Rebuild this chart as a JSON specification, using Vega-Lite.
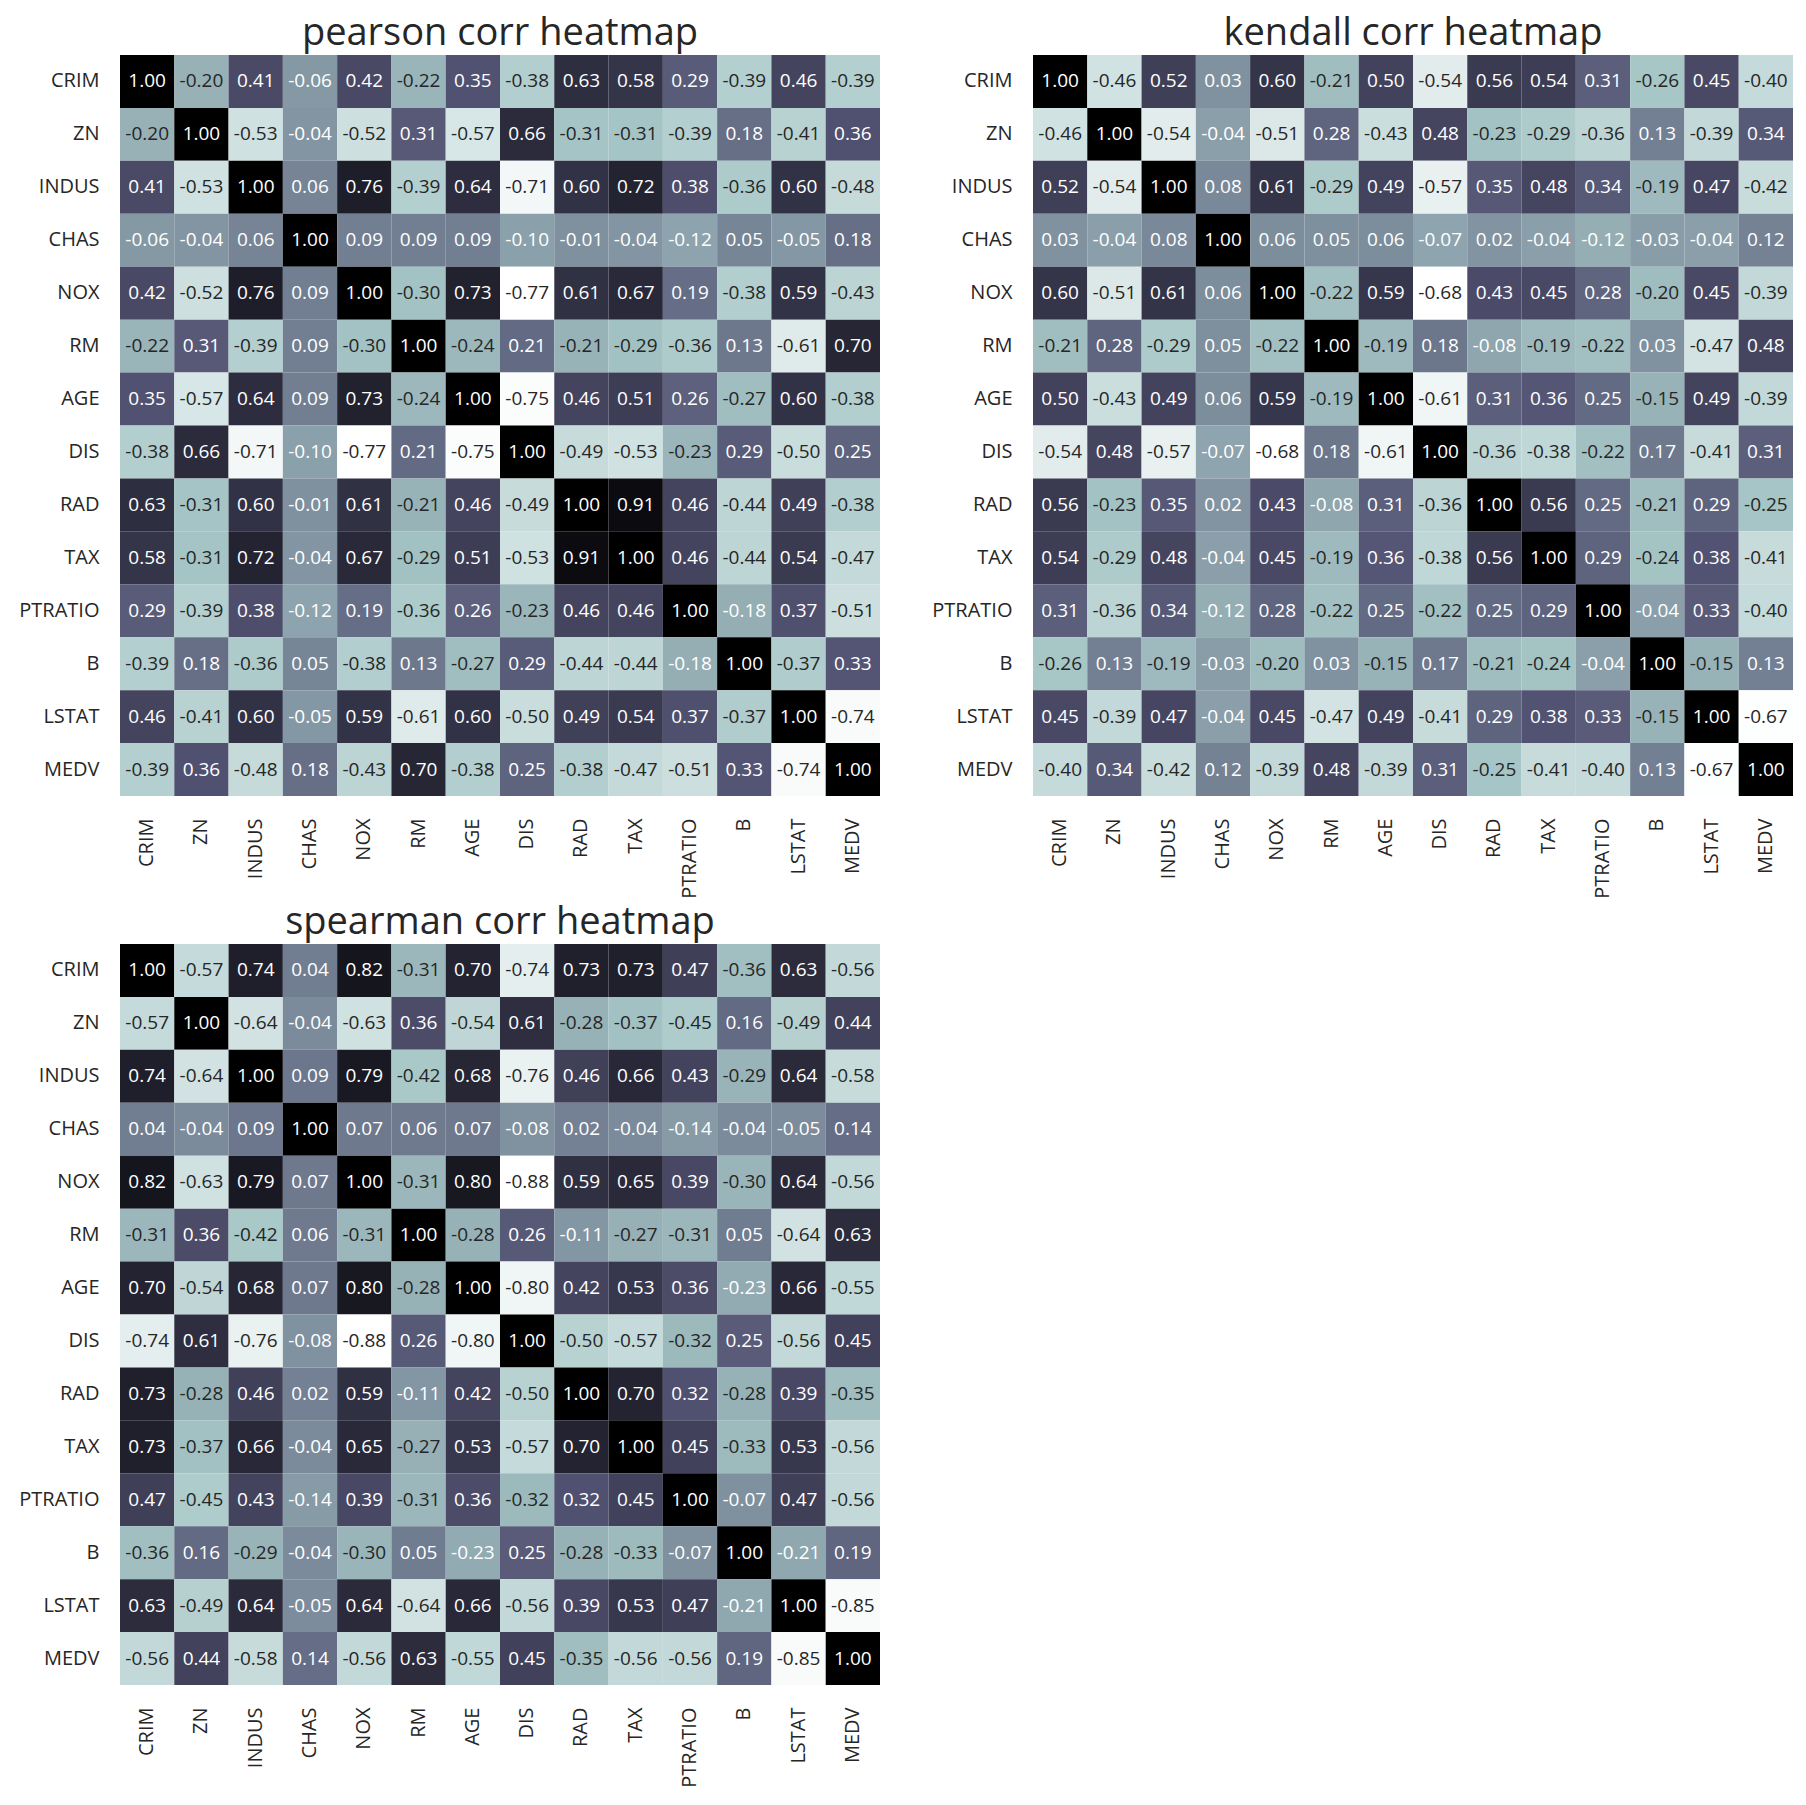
{
"$schema": "https://vega.github.io/schema/vega-lite/v6.json",
"padding": {"left": 18, "top": 15, "right": 5, "bottom": 5},
"background": "white",
"config": {
  "view": {"stroke": null},
  "locale": {"number": {"decimal": ".", "thousands": ",", "grouping": [3], "currency": ["$", ""], "minus": "-"}},
  "axis": {"domain": false, "ticks": false, "grid": false, "labelFont": "Open Sans", "labelFontSize": 20, "labelColor": "#262626", "title": null},
  "axisX": {"labelAngle": 270, "labelPadding": 22},
  "axisY": {"labelPadding": 21},
  "title": {"font": "Open Sans", "fontSize": 38, "fontWeight": "normal", "color": "#262626", "offset": 2, "baseline": "alphabetic"}
},
"datasets": {
"p": [
{"r":"CRIM","c":"CRIM","v":1.00},{"r":"CRIM","c":"ZN","v":-0.20},{"r":"CRIM","c":"INDUS","v":0.41},{"r":"CRIM","c":"CHAS","v":-0.06},{"r":"CRIM","c":"NOX","v":0.42},{"r":"CRIM","c":"RM","v":-0.22},{"r":"CRIM","c":"AGE","v":0.35},{"r":"CRIM","c":"DIS","v":-0.38},{"r":"CRIM","c":"RAD","v":0.63},{"r":"CRIM","c":"TAX","v":0.58},{"r":"CRIM","c":"PTRATIO","v":0.29},{"r":"CRIM","c":"B","v":-0.39},{"r":"CRIM","c":"LSTAT","v":0.46},{"r":"CRIM","c":"MEDV","v":-0.39},
{"r":"ZN","c":"CRIM","v":-0.20},{"r":"ZN","c":"ZN","v":1.00},{"r":"ZN","c":"INDUS","v":-0.53},{"r":"ZN","c":"CHAS","v":-0.04},{"r":"ZN","c":"NOX","v":-0.52},{"r":"ZN","c":"RM","v":0.31},{"r":"ZN","c":"AGE","v":-0.57},{"r":"ZN","c":"DIS","v":0.66},{"r":"ZN","c":"RAD","v":-0.31},{"r":"ZN","c":"TAX","v":-0.31},{"r":"ZN","c":"PTRATIO","v":-0.39},{"r":"ZN","c":"B","v":0.18},{"r":"ZN","c":"LSTAT","v":-0.41},{"r":"ZN","c":"MEDV","v":0.36},
{"r":"INDUS","c":"CRIM","v":0.41},{"r":"INDUS","c":"ZN","v":-0.53},{"r":"INDUS","c":"INDUS","v":1.00},{"r":"INDUS","c":"CHAS","v":0.06},{"r":"INDUS","c":"NOX","v":0.76},{"r":"INDUS","c":"RM","v":-0.39},{"r":"INDUS","c":"AGE","v":0.64},{"r":"INDUS","c":"DIS","v":-0.71},{"r":"INDUS","c":"RAD","v":0.60},{"r":"INDUS","c":"TAX","v":0.72},{"r":"INDUS","c":"PTRATIO","v":0.38},{"r":"INDUS","c":"B","v":-0.36},{"r":"INDUS","c":"LSTAT","v":0.60},{"r":"INDUS","c":"MEDV","v":-0.48},
{"r":"CHAS","c":"CRIM","v":-0.06},{"r":"CHAS","c":"ZN","v":-0.04},{"r":"CHAS","c":"INDUS","v":0.06},{"r":"CHAS","c":"CHAS","v":1.00},{"r":"CHAS","c":"NOX","v":0.09},{"r":"CHAS","c":"RM","v":0.09},{"r":"CHAS","c":"AGE","v":0.09},{"r":"CHAS","c":"DIS","v":-0.10},{"r":"CHAS","c":"RAD","v":-0.01},{"r":"CHAS","c":"TAX","v":-0.04},{"r":"CHAS","c":"PTRATIO","v":-0.12},{"r":"CHAS","c":"B","v":0.05},{"r":"CHAS","c":"LSTAT","v":-0.05},{"r":"CHAS","c":"MEDV","v":0.18},
{"r":"NOX","c":"CRIM","v":0.42},{"r":"NOX","c":"ZN","v":-0.52},{"r":"NOX","c":"INDUS","v":0.76},{"r":"NOX","c":"CHAS","v":0.09},{"r":"NOX","c":"NOX","v":1.00},{"r":"NOX","c":"RM","v":-0.30},{"r":"NOX","c":"AGE","v":0.73},{"r":"NOX","c":"DIS","v":-0.77},{"r":"NOX","c":"RAD","v":0.61},{"r":"NOX","c":"TAX","v":0.67},{"r":"NOX","c":"PTRATIO","v":0.19},{"r":"NOX","c":"B","v":-0.38},{"r":"NOX","c":"LSTAT","v":0.59},{"r":"NOX","c":"MEDV","v":-0.43},
{"r":"RM","c":"CRIM","v":-0.22},{"r":"RM","c":"ZN","v":0.31},{"r":"RM","c":"INDUS","v":-0.39},{"r":"RM","c":"CHAS","v":0.09},{"r":"RM","c":"NOX","v":-0.30},{"r":"RM","c":"RM","v":1.00},{"r":"RM","c":"AGE","v":-0.24},{"r":"RM","c":"DIS","v":0.21},{"r":"RM","c":"RAD","v":-0.21},{"r":"RM","c":"TAX","v":-0.29},{"r":"RM","c":"PTRATIO","v":-0.36},{"r":"RM","c":"B","v":0.13},{"r":"RM","c":"LSTAT","v":-0.61},{"r":"RM","c":"MEDV","v":0.70},
{"r":"AGE","c":"CRIM","v":0.35},{"r":"AGE","c":"ZN","v":-0.57},{"r":"AGE","c":"INDUS","v":0.64},{"r":"AGE","c":"CHAS","v":0.09},{"r":"AGE","c":"NOX","v":0.73},{"r":"AGE","c":"RM","v":-0.24},{"r":"AGE","c":"AGE","v":1.00},{"r":"AGE","c":"DIS","v":-0.75},{"r":"AGE","c":"RAD","v":0.46},{"r":"AGE","c":"TAX","v":0.51},{"r":"AGE","c":"PTRATIO","v":0.26},{"r":"AGE","c":"B","v":-0.27},{"r":"AGE","c":"LSTAT","v":0.60},{"r":"AGE","c":"MEDV","v":-0.38},
{"r":"DIS","c":"CRIM","v":-0.38},{"r":"DIS","c":"ZN","v":0.66},{"r":"DIS","c":"INDUS","v":-0.71},{"r":"DIS","c":"CHAS","v":-0.10},{"r":"DIS","c":"NOX","v":-0.77},{"r":"DIS","c":"RM","v":0.21},{"r":"DIS","c":"AGE","v":-0.75},{"r":"DIS","c":"DIS","v":1.00},{"r":"DIS","c":"RAD","v":-0.49},{"r":"DIS","c":"TAX","v":-0.53},{"r":"DIS","c":"PTRATIO","v":-0.23},{"r":"DIS","c":"B","v":0.29},{"r":"DIS","c":"LSTAT","v":-0.50},{"r":"DIS","c":"MEDV","v":0.25},
{"r":"RAD","c":"CRIM","v":0.63},{"r":"RAD","c":"ZN","v":-0.31},{"r":"RAD","c":"INDUS","v":0.60},{"r":"RAD","c":"CHAS","v":-0.01},{"r":"RAD","c":"NOX","v":0.61},{"r":"RAD","c":"RM","v":-0.21},{"r":"RAD","c":"AGE","v":0.46},{"r":"RAD","c":"DIS","v":-0.49},{"r":"RAD","c":"RAD","v":1.00},{"r":"RAD","c":"TAX","v":0.91},{"r":"RAD","c":"PTRATIO","v":0.46},{"r":"RAD","c":"B","v":-0.44},{"r":"RAD","c":"LSTAT","v":0.49},{"r":"RAD","c":"MEDV","v":-0.38},
{"r":"TAX","c":"CRIM","v":0.58},{"r":"TAX","c":"ZN","v":-0.31},{"r":"TAX","c":"INDUS","v":0.72},{"r":"TAX","c":"CHAS","v":-0.04},{"r":"TAX","c":"NOX","v":0.67},{"r":"TAX","c":"RM","v":-0.29},{"r":"TAX","c":"AGE","v":0.51},{"r":"TAX","c":"DIS","v":-0.53},{"r":"TAX","c":"RAD","v":0.91},{"r":"TAX","c":"TAX","v":1.00},{"r":"TAX","c":"PTRATIO","v":0.46},{"r":"TAX","c":"B","v":-0.44},{"r":"TAX","c":"LSTAT","v":0.54},{"r":"TAX","c":"MEDV","v":-0.47},
{"r":"PTRATIO","c":"CRIM","v":0.29},{"r":"PTRATIO","c":"ZN","v":-0.39},{"r":"PTRATIO","c":"INDUS","v":0.38},{"r":"PTRATIO","c":"CHAS","v":-0.12},{"r":"PTRATIO","c":"NOX","v":0.19},{"r":"PTRATIO","c":"RM","v":-0.36},{"r":"PTRATIO","c":"AGE","v":0.26},{"r":"PTRATIO","c":"DIS","v":-0.23},{"r":"PTRATIO","c":"RAD","v":0.46},{"r":"PTRATIO","c":"TAX","v":0.46},{"r":"PTRATIO","c":"PTRATIO","v":1.00},{"r":"PTRATIO","c":"B","v":-0.18},{"r":"PTRATIO","c":"LSTAT","v":0.37},{"r":"PTRATIO","c":"MEDV","v":-0.51},
{"r":"B","c":"CRIM","v":-0.39},{"r":"B","c":"ZN","v":0.18},{"r":"B","c":"INDUS","v":-0.36},{"r":"B","c":"CHAS","v":0.05},{"r":"B","c":"NOX","v":-0.38},{"r":"B","c":"RM","v":0.13},{"r":"B","c":"AGE","v":-0.27},{"r":"B","c":"DIS","v":0.29},{"r":"B","c":"RAD","v":-0.44},{"r":"B","c":"TAX","v":-0.44},{"r":"B","c":"PTRATIO","v":-0.18},{"r":"B","c":"B","v":1.00},{"r":"B","c":"LSTAT","v":-0.37},{"r":"B","c":"MEDV","v":0.33},
{"r":"LSTAT","c":"CRIM","v":0.46},{"r":"LSTAT","c":"ZN","v":-0.41},{"r":"LSTAT","c":"INDUS","v":0.60},{"r":"LSTAT","c":"CHAS","v":-0.05},{"r":"LSTAT","c":"NOX","v":0.59},{"r":"LSTAT","c":"RM","v":-0.61},{"r":"LSTAT","c":"AGE","v":0.60},{"r":"LSTAT","c":"DIS","v":-0.50},{"r":"LSTAT","c":"RAD","v":0.49},{"r":"LSTAT","c":"TAX","v":0.54},{"r":"LSTAT","c":"PTRATIO","v":0.37},{"r":"LSTAT","c":"B","v":-0.37},{"r":"LSTAT","c":"LSTAT","v":1.00},{"r":"LSTAT","c":"MEDV","v":-0.74},
{"r":"MEDV","c":"CRIM","v":-0.39},{"r":"MEDV","c":"ZN","v":0.36},{"r":"MEDV","c":"INDUS","v":-0.48},{"r":"MEDV","c":"CHAS","v":0.18},{"r":"MEDV","c":"NOX","v":-0.43},{"r":"MEDV","c":"RM","v":0.70},{"r":"MEDV","c":"AGE","v":-0.38},{"r":"MEDV","c":"DIS","v":0.25},{"r":"MEDV","c":"RAD","v":-0.38},{"r":"MEDV","c":"TAX","v":-0.47},{"r":"MEDV","c":"PTRATIO","v":-0.51},{"r":"MEDV","c":"B","v":0.33},{"r":"MEDV","c":"LSTAT","v":-0.74},{"r":"MEDV","c":"MEDV","v":1.00}
],
"k": [
{"r":"CRIM","c":"CRIM","v":1.00},{"r":"CRIM","c":"ZN","v":-0.46},{"r":"CRIM","c":"INDUS","v":0.52},{"r":"CRIM","c":"CHAS","v":0.03},{"r":"CRIM","c":"NOX","v":0.60},{"r":"CRIM","c":"RM","v":-0.21},{"r":"CRIM","c":"AGE","v":0.50},{"r":"CRIM","c":"DIS","v":-0.54},{"r":"CRIM","c":"RAD","v":0.56},{"r":"CRIM","c":"TAX","v":0.54},{"r":"CRIM","c":"PTRATIO","v":0.31},{"r":"CRIM","c":"B","v":-0.26},{"r":"CRIM","c":"LSTAT","v":0.45},{"r":"CRIM","c":"MEDV","v":-0.40},
{"r":"ZN","c":"CRIM","v":-0.46},{"r":"ZN","c":"ZN","v":1.00},{"r":"ZN","c":"INDUS","v":-0.54},{"r":"ZN","c":"CHAS","v":-0.04},{"r":"ZN","c":"NOX","v":-0.51},{"r":"ZN","c":"RM","v":0.28},{"r":"ZN","c":"AGE","v":-0.43},{"r":"ZN","c":"DIS","v":0.48},{"r":"ZN","c":"RAD","v":-0.23},{"r":"ZN","c":"TAX","v":-0.29},{"r":"ZN","c":"PTRATIO","v":-0.36},{"r":"ZN","c":"B","v":0.13},{"r":"ZN","c":"LSTAT","v":-0.39},{"r":"ZN","c":"MEDV","v":0.34},
{"r":"INDUS","c":"CRIM","v":0.52},{"r":"INDUS","c":"ZN","v":-0.54},{"r":"INDUS","c":"INDUS","v":1.00},{"r":"INDUS","c":"CHAS","v":0.08},{"r":"INDUS","c":"NOX","v":0.61},{"r":"INDUS","c":"RM","v":-0.29},{"r":"INDUS","c":"AGE","v":0.49},{"r":"INDUS","c":"DIS","v":-0.57},{"r":"INDUS","c":"RAD","v":0.35},{"r":"INDUS","c":"TAX","v":0.48},{"r":"INDUS","c":"PTRATIO","v":0.34},{"r":"INDUS","c":"B","v":-0.19},{"r":"INDUS","c":"LSTAT","v":0.47},{"r":"INDUS","c":"MEDV","v":-0.42},
{"r":"CHAS","c":"CRIM","v":0.03},{"r":"CHAS","c":"ZN","v":-0.04},{"r":"CHAS","c":"INDUS","v":0.08},{"r":"CHAS","c":"CHAS","v":1.00},{"r":"CHAS","c":"NOX","v":0.06},{"r":"CHAS","c":"RM","v":0.05},{"r":"CHAS","c":"AGE","v":0.06},{"r":"CHAS","c":"DIS","v":-0.07},{"r":"CHAS","c":"RAD","v":0.02},{"r":"CHAS","c":"TAX","v":-0.04},{"r":"CHAS","c":"PTRATIO","v":-0.12},{"r":"CHAS","c":"B","v":-0.03},{"r":"CHAS","c":"LSTAT","v":-0.04},{"r":"CHAS","c":"MEDV","v":0.12},
{"r":"NOX","c":"CRIM","v":0.60},{"r":"NOX","c":"ZN","v":-0.51},{"r":"NOX","c":"INDUS","v":0.61},{"r":"NOX","c":"CHAS","v":0.06},{"r":"NOX","c":"NOX","v":1.00},{"r":"NOX","c":"RM","v":-0.22},{"r":"NOX","c":"AGE","v":0.59},{"r":"NOX","c":"DIS","v":-0.68},{"r":"NOX","c":"RAD","v":0.43},{"r":"NOX","c":"TAX","v":0.45},{"r":"NOX","c":"PTRATIO","v":0.28},{"r":"NOX","c":"B","v":-0.20},{"r":"NOX","c":"LSTAT","v":0.45},{"r":"NOX","c":"MEDV","v":-0.39},
{"r":"RM","c":"CRIM","v":-0.21},{"r":"RM","c":"ZN","v":0.28},{"r":"RM","c":"INDUS","v":-0.29},{"r":"RM","c":"CHAS","v":0.05},{"r":"RM","c":"NOX","v":-0.22},{"r":"RM","c":"RM","v":1.00},{"r":"RM","c":"AGE","v":-0.19},{"r":"RM","c":"DIS","v":0.18},{"r":"RM","c":"RAD","v":-0.08},{"r":"RM","c":"TAX","v":-0.19},{"r":"RM","c":"PTRATIO","v":-0.22},{"r":"RM","c":"B","v":0.03},{"r":"RM","c":"LSTAT","v":-0.47},{"r":"RM","c":"MEDV","v":0.48},
{"r":"AGE","c":"CRIM","v":0.50},{"r":"AGE","c":"ZN","v":-0.43},{"r":"AGE","c":"INDUS","v":0.49},{"r":"AGE","c":"CHAS","v":0.06},{"r":"AGE","c":"NOX","v":0.59},{"r":"AGE","c":"RM","v":-0.19},{"r":"AGE","c":"AGE","v":1.00},{"r":"AGE","c":"DIS","v":-0.61},{"r":"AGE","c":"RAD","v":0.31},{"r":"AGE","c":"TAX","v":0.36},{"r":"AGE","c":"PTRATIO","v":0.25},{"r":"AGE","c":"B","v":-0.15},{"r":"AGE","c":"LSTAT","v":0.49},{"r":"AGE","c":"MEDV","v":-0.39},
{"r":"DIS","c":"CRIM","v":-0.54},{"r":"DIS","c":"ZN","v":0.48},{"r":"DIS","c":"INDUS","v":-0.57},{"r":"DIS","c":"CHAS","v":-0.07},{"r":"DIS","c":"NOX","v":-0.68},{"r":"DIS","c":"RM","v":0.18},{"r":"DIS","c":"AGE","v":-0.61},{"r":"DIS","c":"DIS","v":1.00},{"r":"DIS","c":"RAD","v":-0.36},{"r":"DIS","c":"TAX","v":-0.38},{"r":"DIS","c":"PTRATIO","v":-0.22},{"r":"DIS","c":"B","v":0.17},{"r":"DIS","c":"LSTAT","v":-0.41},{"r":"DIS","c":"MEDV","v":0.31},
{"r":"RAD","c":"CRIM","v":0.56},{"r":"RAD","c":"ZN","v":-0.23},{"r":"RAD","c":"INDUS","v":0.35},{"r":"RAD","c":"CHAS","v":0.02},{"r":"RAD","c":"NOX","v":0.43},{"r":"RAD","c":"RM","v":-0.08},{"r":"RAD","c":"AGE","v":0.31},{"r":"RAD","c":"DIS","v":-0.36},{"r":"RAD","c":"RAD","v":1.00},{"r":"RAD","c":"TAX","v":0.56},{"r":"RAD","c":"PTRATIO","v":0.25},{"r":"RAD","c":"B","v":-0.21},{"r":"RAD","c":"LSTAT","v":0.29},{"r":"RAD","c":"MEDV","v":-0.25},
{"r":"TAX","c":"CRIM","v":0.54},{"r":"TAX","c":"ZN","v":-0.29},{"r":"TAX","c":"INDUS","v":0.48},{"r":"TAX","c":"CHAS","v":-0.04},{"r":"TAX","c":"NOX","v":0.45},{"r":"TAX","c":"RM","v":-0.19},{"r":"TAX","c":"AGE","v":0.36},{"r":"TAX","c":"DIS","v":-0.38},{"r":"TAX","c":"RAD","v":0.56},{"r":"TAX","c":"TAX","v":1.00},{"r":"TAX","c":"PTRATIO","v":0.29},{"r":"TAX","c":"B","v":-0.24},{"r":"TAX","c":"LSTAT","v":0.38},{"r":"TAX","c":"MEDV","v":-0.41},
{"r":"PTRATIO","c":"CRIM","v":0.31},{"r":"PTRATIO","c":"ZN","v":-0.36},{"r":"PTRATIO","c":"INDUS","v":0.34},{"r":"PTRATIO","c":"CHAS","v":-0.12},{"r":"PTRATIO","c":"NOX","v":0.28},{"r":"PTRATIO","c":"RM","v":-0.22},{"r":"PTRATIO","c":"AGE","v":0.25},{"r":"PTRATIO","c":"DIS","v":-0.22},{"r":"PTRATIO","c":"RAD","v":0.25},{"r":"PTRATIO","c":"TAX","v":0.29},{"r":"PTRATIO","c":"PTRATIO","v":1.00},{"r":"PTRATIO","c":"B","v":-0.04},{"r":"PTRATIO","c":"LSTAT","v":0.33},{"r":"PTRATIO","c":"MEDV","v":-0.40},
{"r":"B","c":"CRIM","v":-0.26},{"r":"B","c":"ZN","v":0.13},{"r":"B","c":"INDUS","v":-0.19},{"r":"B","c":"CHAS","v":-0.03},{"r":"B","c":"NOX","v":-0.20},{"r":"B","c":"RM","v":0.03},{"r":"B","c":"AGE","v":-0.15},{"r":"B","c":"DIS","v":0.17},{"r":"B","c":"RAD","v":-0.21},{"r":"B","c":"TAX","v":-0.24},{"r":"B","c":"PTRATIO","v":-0.04},{"r":"B","c":"B","v":1.00},{"r":"B","c":"LSTAT","v":-0.15},{"r":"B","c":"MEDV","v":0.13},
{"r":"LSTAT","c":"CRIM","v":0.45},{"r":"LSTAT","c":"ZN","v":-0.39},{"r":"LSTAT","c":"INDUS","v":0.47},{"r":"LSTAT","c":"CHAS","v":-0.04},{"r":"LSTAT","c":"NOX","v":0.45},{"r":"LSTAT","c":"RM","v":-0.47},{"r":"LSTAT","c":"AGE","v":0.49},{"r":"LSTAT","c":"DIS","v":-0.41},{"r":"LSTAT","c":"RAD","v":0.29},{"r":"LSTAT","c":"TAX","v":0.38},{"r":"LSTAT","c":"PTRATIO","v":0.33},{"r":"LSTAT","c":"B","v":-0.15},{"r":"LSTAT","c":"LSTAT","v":1.00},{"r":"LSTAT","c":"MEDV","v":-0.67},
{"r":"MEDV","c":"CRIM","v":-0.40},{"r":"MEDV","c":"ZN","v":0.34},{"r":"MEDV","c":"INDUS","v":-0.42},{"r":"MEDV","c":"CHAS","v":0.12},{"r":"MEDV","c":"NOX","v":-0.39},{"r":"MEDV","c":"RM","v":0.48},{"r":"MEDV","c":"AGE","v":-0.39},{"r":"MEDV","c":"DIS","v":0.31},{"r":"MEDV","c":"RAD","v":-0.25},{"r":"MEDV","c":"TAX","v":-0.41},{"r":"MEDV","c":"PTRATIO","v":-0.40},{"r":"MEDV","c":"B","v":0.13},{"r":"MEDV","c":"LSTAT","v":-0.67},{"r":"MEDV","c":"MEDV","v":1.00}
],
"s": [
{"r":"CRIM","c":"CRIM","v":1.00},{"r":"CRIM","c":"ZN","v":-0.57},{"r":"CRIM","c":"INDUS","v":0.74},{"r":"CRIM","c":"CHAS","v":0.04},{"r":"CRIM","c":"NOX","v":0.82},{"r":"CRIM","c":"RM","v":-0.31},{"r":"CRIM","c":"AGE","v":0.70},{"r":"CRIM","c":"DIS","v":-0.74},{"r":"CRIM","c":"RAD","v":0.73},{"r":"CRIM","c":"TAX","v":0.73},{"r":"CRIM","c":"PTRATIO","v":0.47},{"r":"CRIM","c":"B","v":-0.36},{"r":"CRIM","c":"LSTAT","v":0.63},{"r":"CRIM","c":"MEDV","v":-0.56},
{"r":"ZN","c":"CRIM","v":-0.57},{"r":"ZN","c":"ZN","v":1.00},{"r":"ZN","c":"INDUS","v":-0.64},{"r":"ZN","c":"CHAS","v":-0.04},{"r":"ZN","c":"NOX","v":-0.63},{"r":"ZN","c":"RM","v":0.36},{"r":"ZN","c":"AGE","v":-0.54},{"r":"ZN","c":"DIS","v":0.61},{"r":"ZN","c":"RAD","v":-0.28},{"r":"ZN","c":"TAX","v":-0.37},{"r":"ZN","c":"PTRATIO","v":-0.45},{"r":"ZN","c":"B","v":0.16},{"r":"ZN","c":"LSTAT","v":-0.49},{"r":"ZN","c":"MEDV","v":0.44},
{"r":"INDUS","c":"CRIM","v":0.74},{"r":"INDUS","c":"ZN","v":-0.64},{"r":"INDUS","c":"INDUS","v":1.00},{"r":"INDUS","c":"CHAS","v":0.09},{"r":"INDUS","c":"NOX","v":0.79},{"r":"INDUS","c":"RM","v":-0.42},{"r":"INDUS","c":"AGE","v":0.68},{"r":"INDUS","c":"DIS","v":-0.76},{"r":"INDUS","c":"RAD","v":0.46},{"r":"INDUS","c":"TAX","v":0.66},{"r":"INDUS","c":"PTRATIO","v":0.43},{"r":"INDUS","c":"B","v":-0.29},{"r":"INDUS","c":"LSTAT","v":0.64},{"r":"INDUS","c":"MEDV","v":-0.58},
{"r":"CHAS","c":"CRIM","v":0.04},{"r":"CHAS","c":"ZN","v":-0.04},{"r":"CHAS","c":"INDUS","v":0.09},{"r":"CHAS","c":"CHAS","v":1.00},{"r":"CHAS","c":"NOX","v":0.07},{"r":"CHAS","c":"RM","v":0.06},{"r":"CHAS","c":"AGE","v":0.07},{"r":"CHAS","c":"DIS","v":-0.08},{"r":"CHAS","c":"RAD","v":0.02},{"r":"CHAS","c":"TAX","v":-0.04},{"r":"CHAS","c":"PTRATIO","v":-0.14},{"r":"CHAS","c":"B","v":-0.04},{"r":"CHAS","c":"LSTAT","v":-0.05},{"r":"CHAS","c":"MEDV","v":0.14},
{"r":"NOX","c":"CRIM","v":0.82},{"r":"NOX","c":"ZN","v":-0.63},{"r":"NOX","c":"INDUS","v":0.79},{"r":"NOX","c":"CHAS","v":0.07},{"r":"NOX","c":"NOX","v":1.00},{"r":"NOX","c":"RM","v":-0.31},{"r":"NOX","c":"AGE","v":0.80},{"r":"NOX","c":"DIS","v":-0.88},{"r":"NOX","c":"RAD","v":0.59},{"r":"NOX","c":"TAX","v":0.65},{"r":"NOX","c":"PTRATIO","v":0.39},{"r":"NOX","c":"B","v":-0.30},{"r":"NOX","c":"LSTAT","v":0.64},{"r":"NOX","c":"MEDV","v":-0.56},
{"r":"RM","c":"CRIM","v":-0.31},{"r":"RM","c":"ZN","v":0.36},{"r":"RM","c":"INDUS","v":-0.42},{"r":"RM","c":"CHAS","v":0.06},{"r":"RM","c":"NOX","v":-0.31},{"r":"RM","c":"RM","v":1.00},{"r":"RM","c":"AGE","v":-0.28},{"r":"RM","c":"DIS","v":0.26},{"r":"RM","c":"RAD","v":-0.11},{"r":"RM","c":"TAX","v":-0.27},{"r":"RM","c":"PTRATIO","v":-0.31},{"r":"RM","c":"B","v":0.05},{"r":"RM","c":"LSTAT","v":-0.64},{"r":"RM","c":"MEDV","v":0.63},
{"r":"AGE","c":"CRIM","v":0.70},{"r":"AGE","c":"ZN","v":-0.54},{"r":"AGE","c":"INDUS","v":0.68},{"r":"AGE","c":"CHAS","v":0.07},{"r":"AGE","c":"NOX","v":0.80},{"r":"AGE","c":"RM","v":-0.28},{"r":"AGE","c":"AGE","v":1.00},{"r":"AGE","c":"DIS","v":-0.80},{"r":"AGE","c":"RAD","v":0.42},{"r":"AGE","c":"TAX","v":0.53},{"r":"AGE","c":"PTRATIO","v":0.36},{"r":"AGE","c":"B","v":-0.23},{"r":"AGE","c":"LSTAT","v":0.66},{"r":"AGE","c":"MEDV","v":-0.55},
{"r":"DIS","c":"CRIM","v":-0.74},{"r":"DIS","c":"ZN","v":0.61},{"r":"DIS","c":"INDUS","v":-0.76},{"r":"DIS","c":"CHAS","v":-0.08},{"r":"DIS","c":"NOX","v":-0.88},{"r":"DIS","c":"RM","v":0.26},{"r":"DIS","c":"AGE","v":-0.80},{"r":"DIS","c":"DIS","v":1.00},{"r":"DIS","c":"RAD","v":-0.50},{"r":"DIS","c":"TAX","v":-0.57},{"r":"DIS","c":"PTRATIO","v":-0.32},{"r":"DIS","c":"B","v":0.25},{"r":"DIS","c":"LSTAT","v":-0.56},{"r":"DIS","c":"MEDV","v":0.45},
{"r":"RAD","c":"CRIM","v":0.73},{"r":"RAD","c":"ZN","v":-0.28},{"r":"RAD","c":"INDUS","v":0.46},{"r":"RAD","c":"CHAS","v":0.02},{"r":"RAD","c":"NOX","v":0.59},{"r":"RAD","c":"RM","v":-0.11},{"r":"RAD","c":"AGE","v":0.42},{"r":"RAD","c":"DIS","v":-0.50},{"r":"RAD","c":"RAD","v":1.00},{"r":"RAD","c":"TAX","v":0.70},{"r":"RAD","c":"PTRATIO","v":0.32},{"r":"RAD","c":"B","v":-0.28},{"r":"RAD","c":"LSTAT","v":0.39},{"r":"RAD","c":"MEDV","v":-0.35},
{"r":"TAX","c":"CRIM","v":0.73},{"r":"TAX","c":"ZN","v":-0.37},{"r":"TAX","c":"INDUS","v":0.66},{"r":"TAX","c":"CHAS","v":-0.04},{"r":"TAX","c":"NOX","v":0.65},{"r":"TAX","c":"RM","v":-0.27},{"r":"TAX","c":"AGE","v":0.53},{"r":"TAX","c":"DIS","v":-0.57},{"r":"TAX","c":"RAD","v":0.70},{"r":"TAX","c":"TAX","v":1.00},{"r":"TAX","c":"PTRATIO","v":0.45},{"r":"TAX","c":"B","v":-0.33},{"r":"TAX","c":"LSTAT","v":0.53},{"r":"TAX","c":"MEDV","v":-0.56},
{"r":"PTRATIO","c":"CRIM","v":0.47},{"r":"PTRATIO","c":"ZN","v":-0.45},{"r":"PTRATIO","c":"INDUS","v":0.43},{"r":"PTRATIO","c":"CHAS","v":-0.14},{"r":"PTRATIO","c":"NOX","v":0.39},{"r":"PTRATIO","c":"RM","v":-0.31},{"r":"PTRATIO","c":"AGE","v":0.36},{"r":"PTRATIO","c":"DIS","v":-0.32},{"r":"PTRATIO","c":"RAD","v":0.32},{"r":"PTRATIO","c":"TAX","v":0.45},{"r":"PTRATIO","c":"PTRATIO","v":1.00},{"r":"PTRATIO","c":"B","v":-0.07},{"r":"PTRATIO","c":"LSTAT","v":0.47},{"r":"PTRATIO","c":"MEDV","v":-0.56},
{"r":"B","c":"CRIM","v":-0.36},{"r":"B","c":"ZN","v":0.16},{"r":"B","c":"INDUS","v":-0.29},{"r":"B","c":"CHAS","v":-0.04},{"r":"B","c":"NOX","v":-0.30},{"r":"B","c":"RM","v":0.05},{"r":"B","c":"AGE","v":-0.23},{"r":"B","c":"DIS","v":0.25},{"r":"B","c":"RAD","v":-0.28},{"r":"B","c":"TAX","v":-0.33},{"r":"B","c":"PTRATIO","v":-0.07},{"r":"B","c":"B","v":1.00},{"r":"B","c":"LSTAT","v":-0.21},{"r":"B","c":"MEDV","v":0.19},
{"r":"LSTAT","c":"CRIM","v":0.63},{"r":"LSTAT","c":"ZN","v":-0.49},{"r":"LSTAT","c":"INDUS","v":0.64},{"r":"LSTAT","c":"CHAS","v":-0.05},{"r":"LSTAT","c":"NOX","v":0.64},{"r":"LSTAT","c":"RM","v":-0.64},{"r":"LSTAT","c":"AGE","v":0.66},{"r":"LSTAT","c":"DIS","v":-0.56},{"r":"LSTAT","c":"RAD","v":0.39},{"r":"LSTAT","c":"TAX","v":0.53},{"r":"LSTAT","c":"PTRATIO","v":0.47},{"r":"LSTAT","c":"B","v":-0.21},{"r":"LSTAT","c":"LSTAT","v":1.00},{"r":"LSTAT","c":"MEDV","v":-0.85},
{"r":"MEDV","c":"CRIM","v":-0.56},{"r":"MEDV","c":"ZN","v":0.44},{"r":"MEDV","c":"INDUS","v":-0.58},{"r":"MEDV","c":"CHAS","v":0.14},{"r":"MEDV","c":"NOX","v":-0.56},{"r":"MEDV","c":"RM","v":0.63},{"r":"MEDV","c":"AGE","v":-0.55},{"r":"MEDV","c":"DIS","v":0.45},{"r":"MEDV","c":"RAD","v":-0.35},{"r":"MEDV","c":"TAX","v":-0.56},{"r":"MEDV","c":"PTRATIO","v":-0.56},{"r":"MEDV","c":"B","v":0.19},{"r":"MEDV","c":"LSTAT","v":-0.85},{"r":"MEDV","c":"MEDV","v":1.00}
]
},
"concat": [
{
 "data": {"name": "p"},
 "title": {"text": "pearson corr heatmap"},
 "width": 760, "height": 741,
 "encoding": {
  "x": {"field": "c", "type": "nominal", "sort": ["CRIM","ZN","INDUS","CHAS","NOX","RM","AGE","DIS","RAD","TAX","PTRATIO","B","LSTAT","MEDV"], "scale": {"paddingInner": 0, "paddingOuter": 0}, "title": null},
  "y": {"field": "r", "type": "nominal", "sort": ["CRIM","ZN","INDUS","CHAS","NOX","RM","AGE","DIS","RAD","TAX","PTRATIO","B","LSTAT","MEDV"], "scale": {"paddingInner": 0, "paddingOuter": 0}, "title": null}
 },
 "layer": [
  {"mark": {"type": "rect"}, "encoding": {"color": {"field": "v", "type": "quantitative", "legend": null, "scale": {"type": "linear", "domain": [-0.77, -0.3205, 0.3538, 1.0], "range": ["#ffffff", "#a6c6c6", "#515171", "#000000"], "interpolate": "rgb", "clamp": true}}}},
  {"mark": {"type": "text", "font": "Open Sans", "fontSize": 19}, "encoding": {"text": {"field": "v", "type": "quantitative", "format": ".2f"}, "color": {"condition": {"test": "datum.v > -0.193", "value": "#ffffff"}, "value": "#262626"}}}
 ]
},
{
 "data": {"name": "k"},
 "title": {"text": "kendall corr heatmap"},
 "width": 760, "height": 741,
 "encoding": {
  "x": {"field": "c", "type": "nominal", "sort": ["CRIM","ZN","INDUS","CHAS","NOX","RM","AGE","DIS","RAD","TAX","PTRATIO","B","LSTAT","MEDV"], "scale": {"paddingInner": 0, "paddingOuter": 0}, "title": null},
  "y": {"field": "r", "type": "nominal", "sort": ["CRIM","ZN","INDUS","CHAS","NOX","RM","AGE","DIS","RAD","TAX","PTRATIO","B","LSTAT","MEDV"], "scale": {"paddingInner": 0, "paddingOuter": 0}, "title": null}
 },
 "layer": [
  {"mark": {"type": "rect"}, "encoding": {"color": {"field": "v", "type": "quantitative", "legend": null, "scale": {"type": "linear", "domain": [-0.68, -0.2533, 0.3867, 1.0], "range": ["#ffffff", "#a6c6c6", "#515171", "#000000"], "interpolate": "rgb", "clamp": true}}}},
  {"mark": {"type": "text", "font": "Open Sans", "fontSize": 19}, "encoding": {"text": {"field": "v", "type": "quantitative", "format": ".2f"}, "color": {"condition": {"test": "datum.v > -0.134", "value": "#ffffff"}, "value": "#262626"}}}
 ]
},
{
 "data": {"name": "s"},
 "title": {"text": "spearman corr heatmap"},
 "width": 760, "height": 741,
 "encoding": {
  "x": {"field": "c", "type": "nominal", "sort": ["CRIM","ZN","INDUS","CHAS","NOX","RM","AGE","DIS","RAD","TAX","PTRATIO","B","LSTAT","MEDV"], "scale": {"paddingInner": 0, "paddingOuter": 0}, "title": null},
  "y": {"field": "r", "type": "nominal", "sort": ["CRIM","ZN","INDUS","CHAS","NOX","RM","AGE","DIS","RAD","TAX","PTRATIO","B","LSTAT","MEDV"], "scale": {"paddingInner": 0, "paddingOuter": 0}, "title": null}
 },
 "layer": [
  {"mark": {"type": "rect"}, "encoding": {"color": {"field": "v", "type": "quantitative", "legend": null, "scale": {"type": "linear", "domain": [-0.88, -0.4025, 0.3136, 1.0], "range": ["#ffffff", "#a6c6c6", "#515171", "#000000"], "interpolate": "rgb", "clamp": true}}}},
  {"mark": {"type": "text", "font": "Open Sans", "fontSize": 19}, "encoding": {"text": {"field": "v", "type": "quantitative", "format": ".2f"}, "color": {"condition": {"test": "datum.v > -0.267", "value": "#ffffff"}, "value": "#262626"}}}
 ]
}
],
"columns": 2,
"bounds": "flush",
"spacing": {"row": 148, "column": 153},
"resolve": {"scale": {"color": "independent", "x": "independent", "y": "independent"}}
}
